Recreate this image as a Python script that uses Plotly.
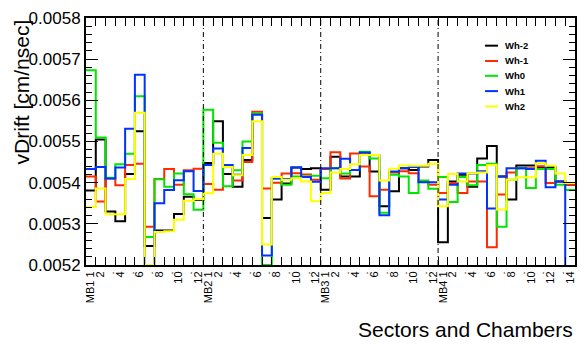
import numpy as np
import plotly.graph_objects as go

# ---------------- data ----------------
stations = ["MB1", "MB2", "MB3", "MB4"]
sectors_per_station = [12, 12, 12, 14]

series_names = ["Wh-2", "Wh-1", "Wh0", "Wh1", "Wh2"]
series_colors = ["#000000", "#ff2a00", "#00e600", "#0033ff", "#ffff00"]

wh_m2 = [0.005381, 0.005505, 0.005330, 0.005306, 0.005421, 0.005525, 0.005246, 0.005284, 0.005284, 0.005324,
         0.005366, 0.005358, 0.005448, 0.005549, 0.005421, 0.005390, 0.005455, 0.005567, 0.005314, 0.005359,
         0.005398, 0.005437, 0.005433, 0.005435, 0.005383, 0.005463, 0.005415, 0.005415, 0.005473, 0.005427,
         0.005343, 0.005379, 0.005435, 0.005431, 0.005439, 0.005455, 0.005255, 0.005403, 0.005419, 0.005390,
         0.005459, 0.005489, 0.005415, 0.005359, 0.005442, 0.005442, 0.005438, 0.005438, 0.005403, 0.005395]
wh_m1 = [0.005415, 0.005354, 0.005410, 0.005394, 0.005443, 0.005446, 0.005293, 0.005409, 0.005433, 0.005395,
         0.005430, 0.005434, 0.005397, 0.005383, 0.005438, 0.005405, 0.005450, 0.005572, 0.005386, 0.005400,
         0.005422, 0.005423, 0.005420, 0.005407, 0.005433, 0.005474, 0.005410, 0.005471, 0.005439, 0.005367,
         0.005383, 0.005425, 0.005428, 0.005423, 0.005403, 0.005395, 0.005375, 0.005399, 0.005375, 0.005403,
         0.005403, 0.005243, 0.005371, 0.005425, 0.005435, 0.005435, 0.005440, 0.005399, 0.005403, 0.005395]
wh_0 = [0.005673, 0.005510, 0.005412, 0.005445, 0.005470, 0.005610, 0.005268, 0.005408, 0.005390, 0.005422,
        0.005372, 0.005334, 0.005577, 0.005497, 0.005391, 0.005430, 0.005500, 0.005568, 0.005200, 0.005410,
        0.005395, 0.005415, 0.005415, 0.005417, 0.005411, 0.005435, 0.005422, 0.005431, 0.005475, 0.005459,
        0.005327, 0.005419, 0.005415, 0.005375, 0.005405, 0.005385, 0.005414, 0.005353, 0.005414, 0.005394,
        0.005443, 0.005446, 0.005293, 0.005407, 0.005435, 0.005387, 0.005433, 0.005433, 0.005395, 0.005382]
wh_1 = [0.005433, 0.005438, 0.005410, 0.005437, 0.005531, 0.005662, 0.005190, 0.005350, 0.005382, 0.005406,
        0.005428, 0.005380, 0.005443, 0.005483, 0.005443, 0.005419, 0.005484, 0.005565, 0.005223, 0.005410,
        0.005409, 0.005437, 0.005414, 0.005402, 0.005435, 0.005435, 0.005458, 0.005431, 0.005473, 0.005467,
        0.005321, 0.005427, 0.005435, 0.005438, 0.005401, 0.005401, 0.005359, 0.005395, 0.005422, 0.005422,
        0.005428, 0.005337, 0.005415, 0.005435, 0.005435, 0.005433, 0.005453, 0.005389, 0.005403, 0.0]
wh_2 = [0.005341, 0.005386, 0.005323, 0.005323, 0.005409, 0.005570, 0.005200, 0.005280, 0.005282, 0.005310,
        0.005356, 0.005360, 0.005374, 0.005470, 0.005438, 0.005418, 0.005467, 0.005549, 0.005250, 0.005414,
        0.005407, 0.005411, 0.005403, 0.005355, 0.005375, 0.005425, 0.005433, 0.005445, 0.005467, 0.005467,
        0.005405, 0.005434, 0.005442, 0.005441, 0.005441, 0.005446, 0.005343, 0.005421, 0.005403, 0.005423,
        0.005425, 0.005443, 0.005335, 0.005407, 0.005413, 0.005413, 0.005447, 0.005441, 0.005422, 0.005399]

series_values = [wh_m2, wh_m1, wh_0, wh_1, wh_2]

# bin labels (rotated sector labels)
def sector_label(st, s):
    if s == 1:
        return st + " 1"
    if s % 2 == 0:
        return str(s)
    return "."

tick_labels = []
for st, n in zip(stations, sectors_per_station):
    for s in range(1, n + 1):
        tick_labels.append(sector_label(st, s))

nbins = len(tick_labels)
centers = np.arange(1, nbins + 1)
edges = np.arange(0.5, nbins + 1.0, 1.0)
group_edges = np.cumsum(sectors_per_station)[:-1] + 0.5

FONT = "Liberation Sans, Arial, Helvetica, sans-serif"

# plot-area geometry (pixels)
L, R, T, B = 85.5, 8.5, 15, 80
W, H = 586 - L - R, 345 - T - B

def px(xp):
    return (xp - L) / W

def py(yp):
    return (345 - B - yp) / H

fig = go.Figure()
for name, color, vals in zip(series_names, series_colors, series_values):
    y = list(vals) + [vals[-1]]
    fig.add_trace(go.Scatter(
        x=edges, y=y, mode="lines", name=name,
        line=dict(color=color, width=2, shape="hv"),
        showlegend=False, hoverinfo="skip"))

# invisible trace for the mirrored axes
fig.add_trace(go.Scatter(x=[edges[0]], y=[0.0052], xaxis="x2", yaxis="y2",
                         mode="markers", marker=dict(opacity=0), showlegend=False,
                         hoverinfo="skip"))

fig.update_layout(
    width=586, height=345,
    margin=dict(l=L, r=R, t=T, b=B),
    paper_bgcolor="white", plot_bgcolor="white",
    font=dict(family=FONT, color="black"),
    xaxis=dict(range=[edges[0], edges[-1]], tickmode="array",
               tickvals=centers, ticktext=tick_labels, tickangle=-90,
               ticks="", tickfont=dict(size=11), showgrid=False, zeroline=False,
               showline=True, linewidth=2, linecolor="black", mirror=True,
               minor=dict(tickmode="array", tickvals=edges[1:-1], ticks="inside",
                          ticklen=8, tickwidth=1, tickcolor="black", showgrid=False)),
    xaxis2=dict(range=[edges[0], edges[-1]], overlaying="x", side="top",
                tickmode="array", tickvals=edges[1:-1], ticks="inside", ticklen=8,
                tickwidth=1, tickcolor="black", showticklabels=False,
                showgrid=False, zeroline=False, showline=False),
    yaxis=dict(range=[0.0052, 0.0058], tickmode="linear", tick0=0.0052, dtick=0.0001,
               tickformat=".4f", ticks="inside", ticklen=12, tickwidth=1, tickcolor="black",
               tickfont=dict(size=17), showgrid=False, zeroline=False,
               showline=True, linewidth=2, linecolor="black", mirror=True,
               minor=dict(dtick=0.00002, tick0=0.0052, ticks="inside", ticklen=6,
                          tickwidth=1, tickcolor="black", showgrid=False)),
    yaxis2=dict(range=[0.0052, 0.0058], overlaying="y", side="right",
                tickmode="linear", tick0=0.0052, dtick=0.0001, ticks="inside", ticklen=12,
                tickwidth=1, tickcolor="black", showticklabels=False,
                showgrid=False, zeroline=False, showline=False,
                minor=dict(dtick=0.00002, tick0=0.0052, ticks="inside", ticklen=6,
                           tickwidth=1, tickcolor="black", showgrid=False)),
)

# station separators
for xe in group_edges:
    fig.add_shape(type="line", xref="x", yref="paper", x0=xe, x1=xe, y0=0, y1=1,
                  line=dict(color="black", width=1, dash="5px,3px,1px,3px"))

# axis titles
fig.add_annotation(text="vDrift [cm/nsec]", xref="paper", yref="paper",
                   x=px(21), y=py(14), xanchor="center", yanchor="top",
                   textangle=-90, showarrow=False, font=dict(size=21, family=FONT))
fig.add_annotation(text="Sectors and Chambers", xref="paper", yref="paper",
                   x=px(577), y=py(330), xanchor="right", yanchor="middle",
                   showarrow=False, font=dict(size=21, family=FONT))

# manual legend (ROOT style, no frame)
leg_x0, leg_x1, leg_tx = 487, 500, 505
leg_y = [43, 58.5, 73.5, 89, 104.5]
for name, color, yy in zip(series_names, series_colors, leg_y):
    fig.add_shape(type="line", xref="paper", yref="paper",
                  x0=px(leg_x0), x1=px(leg_x1), y0=py(yy), y1=py(yy),
                  line=dict(color=color, width=2))
    fig.add_annotation(text="<b>" + name + "</b>", xref="paper", yref="paper",
                       x=px(leg_tx), y=py(yy), xanchor="left", yanchor="middle",
                       showarrow=False, font=dict(size=9.5, family=FONT))

fig.write_html("out.html", config={"displayModeBar": False, "staticPlot": True},
               post_script="document.body.style.margin='0';document.body.style.overflow='hidden';")
